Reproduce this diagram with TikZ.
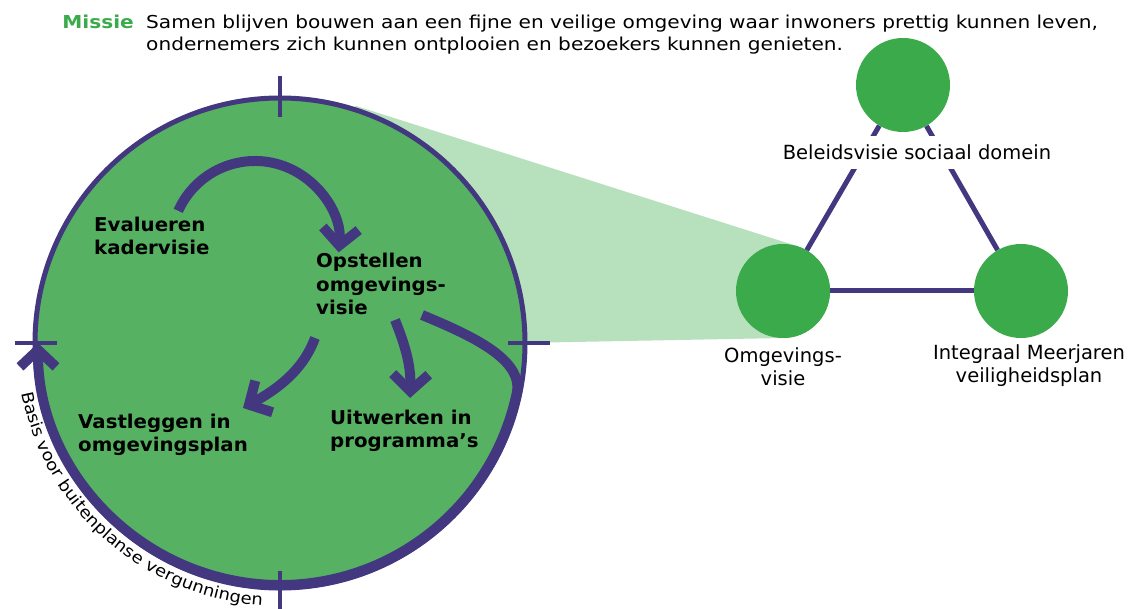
\documentclass[tikz,border=0pt]{standalone}
\usepackage{fontspec}
\setmainfont{DejaVu Sans}
\newfontfamily\widefont{DejaVu Sans}[FakeStretch=1.13]
\newfontfamily\arcfont{DejaVu Sans}[FakeStretch=1.1]
\newfontfamily\labelfont{DejaVu Sans}[FakeStretch=1.04]
\usetikzlibrary{arrows.meta,decorations.text,calc}
\definecolor{purp}{HTML}{433880}
\definecolor{biggreen}{HTML}{56B262}
\definecolor{smallgreen}{HTML}{3BAA4B}
\definecolor{lightgreen}{HTML}{B7E0BD}
\begin{document}
\begin{tikzpicture}[x=1pt,y=-1pt,
  thickarrow/.style={draw=purp, line width=10pt, -{Straight Barb[length=17pt,width=36pt]}},
  tickmark/.style={draw=purp, line width=4pt},
  innerlabel/.style={font=\labelfont\fontsize{19}{23.5}\selectfont\bfseries, align=left, inner sep=0pt, anchor=base west},
  smallcircle/.style={circle, fill=smallgreen, minimum size=94pt, inner sep=0pt},
  tlabel/.style={font=\fontsize{19.5}{23}\selectfont, align=center, inner sep=0pt},
  link/.style={draw=purp, line width=5pt}
]
\useasboundingbox (0,0) rectangle (1133,609);
\coordinate (C) at (280,343);

% mission
\node[anchor=base east, inner sep=0pt, font=\widefont\fontsize{17.8}{21.5}\selectfont\bfseries, text=smallgreen] (missie) at (134,29) {Missie};
\node[anchor=base west, inner sep=0pt, align=left, font=\widefont\fontsize{17.8}{21.5}\selectfont] (mtext) at (146,50.5) {Samen blijven bouwen aan een fijne en veilige omgeving waar inwoners prettig kunnen leven,\\ondernemers zich kunnen ontplooien en bezoekers kunnen genieten.};

% small circles and links
\node[smallcircle] (top) at (903,85) {};
\node[smallcircle] (left) at (783,291) {};
\node[smallcircle] (right) at (1021,291) {};

% light green zoom wedge
\fill[lightgreen] (355.6,105.8) -- (797.3,246.2) -- (783,338) -- (520,343) -- (C) -- cycle;
\node[smallcircle] at (left) {};

\draw[link] (top) -- (left);
\draw[link] (top) -- (right);
\draw[link] (left) -- (right);

\node[tlabel, anchor=base, fill=white, inner xsep=3pt, inner ysep=9pt] (lbeleid) at (917,160) {Beleidsvisie sociaal domein};
\node[tlabel, anchor=base] (lomg) at (783,386) {Omgevings-\\visie};
\node[tlabel, anchor=base] (lint) at (1029,383) {Integraal Meerjaren\\veiligheidsplan};

% big circle
\node[circle, draw=purp, fill=biggreen, line width=5pt, minimum size=490pt, inner sep=0pt] (big) at (C) {};

% tick marks
\draw[tickmark] (280,76) -- (280,117);
\draw[tickmark] (15,343) -- (57,343);
\draw[tickmark] (508,343) -- (550,343);
\draw[tickmark] (280,571) -- (280,612);

% labels inside
\node[innerlabel] (eval) at (94,255) {Evalueren\\kadervisie};
\node[innerlabel] (opst) at (316,315) {Opstellen\\omgevings-\\visie};
\node[innerlabel] (vast) at (78,452) {Vastleggen in\\omgevingsplan};
\node[innerlabel] (uitw) at (330,448) {Uitwerken in\\programma’s};

% arrows
\coordinate (A1) at (255,245);
\draw[thickarrow] ($(A1)+(-156:84)$) arc[start angle=-156, end angle=5, radius=84];
\draw[thickarrow] (315,338) .. controls (305,365) and (285,385) .. (243,408);
\draw[thickarrow] (395,320) .. controls (405,345) and (411,365) .. (410,398);
\draw[thickarrow] (422,315) .. controls (470,335) and (524,359) .. ($(C)+(12:242)$) arc[start angle=12, end angle=180, radius=242];

% text along the circle
\path[decorate, decoration={text along path, text align=left,
  text={|\arcfont\fontsize{16.3}{20}\selectfont|Basis voor buitenplanse vergunningen}}]
  ($(C)+(169:263)$) arc[start angle=169, end angle=85, radius=263];
\end{tikzpicture}
\end{document}
